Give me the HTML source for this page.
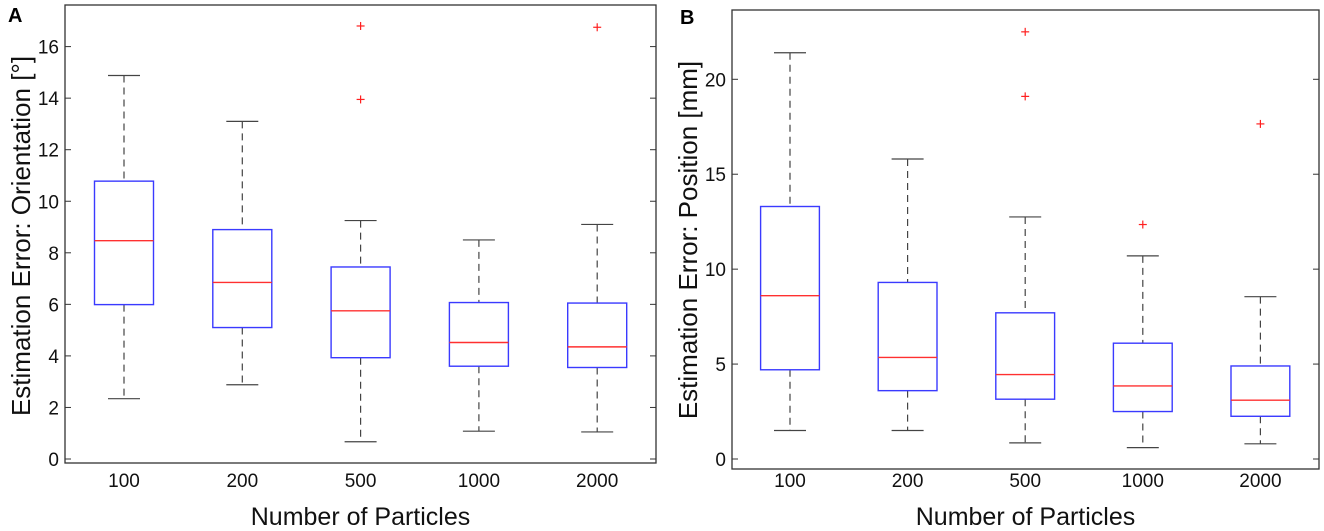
<!DOCTYPE html>
<html><head><meta charset="utf-8">
<style>
html,body{margin:0;padding:0;background:#fff;}
svg{display:block;font-family:"Liberation Sans",Arial,sans-serif;}
</style></head>
<body>
<svg id="chart" width="1324" height="531" viewBox="0 0 1324 531" xmlns="http://www.w3.org/2000/svg">
<text x="8" y="22" font-size="20" font-weight="bold">A</text>
<text x="680" y="24" font-size="20" font-weight="bold">B</text>
</svg>
<script>
const categories = ["100","200","500","1000","2000"];
// Panel A: orientation error [deg]
const aWhiskerHigh = [14.88, 13.1, 9.25, 8.5, 9.1];
const aQ3 = [10.78, 8.9, 7.45, 6.07, 6.05];
const aMedian = [8.47, 6.85, 5.75, 4.52, 4.35];
const aQ1 = [5.99, 5.1, 3.93, 3.6, 3.55];
const aWhiskerLow = [2.34, 2.88, 0.67, 1.08, 1.05];
const aOutliers = [[], [], [16.8, 13.95], [], [16.75]];
const aTicks = [0,2,4,6,8,10,12,14,16];
// Panel B: position error [mm]
const bWhiskerHigh = [21.4, 15.8, 12.75, 10.7, 8.55];
const bQ3 = [13.3, 9.3, 7.7, 6.1, 4.9];
const bMedian = [8.6, 5.35, 4.45, 3.85, 3.1];
const bQ1 = [4.7, 3.6, 3.15, 2.5, 2.25];
const bWhiskerLow = [1.5, 1.5, 0.85, 0.6, 0.8];
const bOutliers = [[], [], [22.5, 19.1], [12.35], [17.65]];
const bTicks = [0,5,10,15,20];

const NS = "http://www.w3.org/2000/svg";
const svg = document.getElementById("chart");
function mk(tag, attrs, parent){
  const e = document.createElementNS(NS, tag);
  for (const k in attrs) e.setAttribute(k, attrs[k]);
  (parent||svg).appendChild(e);
  return e;
}
function panel(p){
  const g = mk("g", {});
  
  
  const y = v => p.y0 + (v - p.vmin) * (p.y1 - p.y0) / (p.vmax - p.vmin);
  const x = i => p.cx0 + i * p.step;
  const fr = mk("rect", {x:p.left, y:p.top, width:p.right-p.left, height:p.bottom-p.top, fill:"none", stroke:"#333", "stroke-width":1.3}, g);
  
  
  p.ticks.forEach(t => {
    const yy = y(t);
    mk("line", {x1:p.left, x2:p.left+6, y1:yy, y2:yy, stroke:"#333"}, g);
    mk("line", {x1:p.right, x2:p.right-6, y1:yy, y2:yy, stroke:"#333"}, g);
    const tl = mk("text", {x:p.left-6, y:yy+7, "font-size":19, "text-anchor":"end", fill:"#111"}, g);
    tl.textContent = t;
    
    
  });
  categories.forEach((c,i) => {
    const xl = mk("text", {x:x(i), y:487, "font-size":19, "text-anchor":"middle", fill:"#111"}, g);
    xl.textContent = c;
    
    
  });
  const xt = mk("text", {x:(p.left+p.right)/2, y:525, "font-size":25, "text-anchor":"middle", fill:"#111"}, g);
  xt.textContent = "Number of Particles";
  
  
  const yt = mk("text", {x:0, y:0, "font-size":26, "text-anchor":"middle", fill:"#111", transform:`translate(${p.ytx},${p.ytc}) rotate(-90)`}, g);
  yt.textContent = p.ytitle;
  
  
  categories.forEach((c,i) => {
    const bx = mk("g", {}, g);
    
    
    const cx = x(i), hw = p.hw, cw = 16;
    mk("line", {x1:cx, x2:cx, y1:y(p.wh[i]), y2:y(p.q3[i]), stroke:"#444", "stroke-dasharray":"7,5", "stroke-width":1.2}, bx);
    mk("line", {x1:cx, x2:cx, y1:y(p.q1[i]), y2:y(p.wl[i]), stroke:"#444", "stroke-dasharray":"7,5", "stroke-width":1.2}, bx);
    mk("line", {x1:cx-cw, x2:cx+cw, y1:y(p.wh[i]), y2:y(p.wh[i]), stroke:"#444", "stroke-width":1.2}, bx);
    mk("line", {x1:cx-cw, x2:cx+cw, y1:y(p.wl[i]), y2:y(p.wl[i]), stroke:"#444", "stroke-width":1.2}, bx);
    mk("rect", {x:cx-hw, y:y(p.q3[i]), width:2*hw, height:y(p.q1[i])-y(p.q3[i]), fill:"#fff", stroke:"#3a3aff", "stroke-width":1.4}, bx);
    mk("line", {x1:cx-hw, x2:cx+hw, y1:y(p.med[i]), y2:y(p.med[i]), stroke:"#ff3030", "stroke-width":1.4}, bx);
    p.out[i].forEach(o => {
      const oy = y(o);
      const og = mk("g", {}, bx);
      
      
      mk("line", {x1:cx-4, x2:cx+4, y1:oy, y2:oy, stroke:"#ff2020", "stroke-width":1.2}, og);
      mk("line", {x1:cx, x2:cx, y1:oy-4, y2:oy+4, stroke:"#ff2020", "stroke-width":1.2}, og);
    });
  });
}
panel({name:"panel-a-orientation", left:65, right:656, top:5, bottom:463,
  vmin:0, vmax:16, y0:459, y1:46.6, cx0:124, step:118.3, hw:29.5, ticks:aTicks,
  wh:aWhiskerHigh, q3:aQ3, med:aMedian, q1:aQ1, wl:aWhiskerLow, out:aOutliers,
  ytx:30, ytc:236, ytitle:"Estimation Error: Orientation [°]"});
panel({name:"panel-b-position", left:732, right:1319, top:10, bottom:469,
  vmin:0, vmax:20, y0:459, y1:79.3, cx0:790, step:117.6, hw:29.4, ticks:bTicks,
  wh:bWhiskerHigh, q3:bQ3, med:bMedian, q1:bQ1, wl:bWhiskerLow, out:bOutliers,
  ytx:697, ytc:240, ytitle:"Estimation Error: Position [mm]"});
</script>
</body></html>
